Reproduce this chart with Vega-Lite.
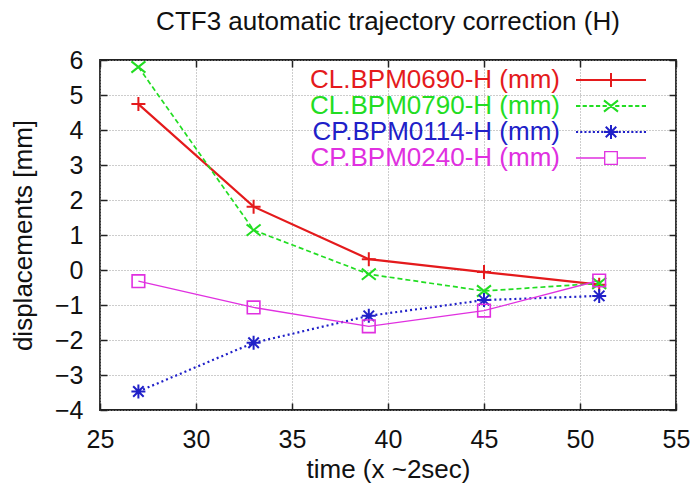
{
  "$schema": "https://vega.github.io/schema/vega-lite/v6.json",
  "width": 576,
  "height": 350,
  "autosize": "none",
  "padding": {"left": 100, "top": 60, "right": 20, "bottom": 78},
  "background": "white",
  "config": {
    "font": "Liberation Sans",
    "view": {"stroke": "#222", "strokeWidth": 1.8},
    "axis": {
      "labelFont": "Liberation Sans",
      "titleFont": "Liberation Sans",
      "labelFontSize": 25,
      "titleFontSize": 26,
      "titleFontWeight": "normal",
      "labelColor": "#111",
      "titleColor": "#111",
      "labelFlush": false,
      "domain": false,
      "tickColor": "#222",
      "tickWidth": 1.5,
      "tickSize": -7,
      "gridColor": "#9a9a9a",
      "gridDash": [1, 2],
      "gridWidth": 1
    }
  },
  "title": {
    "text": "CTF3 automatic trajectory correction (H)",
    "font": "Liberation Sans",
    "fontSize": 26,
    "fontWeight": "normal",
    "color": "#111",
    "anchor": "middle",
    "offset": 13
  },
  "data": {
    "values": [
      {"series": "CL.BPM0690-H (mm)", "t": 27, "v": 4.74},
      {"series": "CL.BPM0690-H (mm)", "t": 33, "v": 1.81},
      {"series": "CL.BPM0690-H (mm)", "t": 39, "v": 0.31},
      {"series": "CL.BPM0690-H (mm)", "t": 45, "v": -0.06},
      {"series": "CL.BPM0690-H (mm)", "t": 51, "v": -0.42},
      {"series": "CL.BPM0790-H (mm)", "t": 27, "v": 5.8},
      {"series": "CL.BPM0790-H (mm)", "t": 33, "v": 1.14},
      {"series": "CL.BPM0790-H (mm)", "t": 39, "v": -0.12},
      {"series": "CL.BPM0790-H (mm)", "t": 45, "v": -0.6},
      {"series": "CL.BPM0790-H (mm)", "t": 51, "v": -0.38},
      {"series": "CP.BPM0114-H (mm)", "t": 27, "v": -3.47},
      {"series": "CP.BPM0114-H (mm)", "t": 33, "v": -2.08},
      {"series": "CP.BPM0114-H (mm)", "t": 39, "v": -1.31},
      {"series": "CP.BPM0114-H (mm)", "t": 45, "v": -0.86},
      {"series": "CP.BPM0114-H (mm)", "t": 51, "v": -0.74},
      {"series": "CP.BPM0240-H (mm)", "t": 27, "v": -0.32},
      {"series": "CP.BPM0240-H (mm)", "t": 33, "v": -1.07},
      {"series": "CP.BPM0240-H (mm)", "t": 39, "v": -1.61},
      {"series": "CP.BPM0240-H (mm)", "t": 45, "v": -1.16},
      {"series": "CP.BPM0240-H (mm)", "t": 51, "v": -0.3}
    ]
  },
  "encoding": {
    "x": {"field": "t", "type": "quantitative", "scale": {"domain": [25, 55], "nice": false, "zero": false}},
    "y": {"field": "v", "type": "quantitative", "scale": {"domain": [-4, 6], "nice": false, "zero": false}},
    "color": {
      "field": "series",
      "type": "nominal",
      "scale": {
        "domain": ["CL.BPM0690-H (mm)", "CL.BPM0790-H (mm)", "CP.BPM0114-H (mm)", "CP.BPM0240-H (mm)"],
        "range": ["#e41a1c", "#22dd22", "#2020c8", "#e030e0"]
      },
      "legend": {
        "orient": "none",
        "legendX": 498,
        "legendY": 7,
        "padding": 0,
        "title": null,
        "labelFont": "Liberation Sans",
        "labelFontSize": 26,
        "labelAlign": "right",
        "labelOffset": -64,
        "labelLimit": 400,
        "symbolSize": 196,
        "symbolStrokeWidth": 1.6,
        "rowPadding": 0,
        "encode": {
          "symbols": {
            "update": {
              "shape": {"signal": "datum.value === 'CL.BPM0690-H (mm)' ? 'M-5,0H5M0,-1V1' : datum.value === 'CL.BPM0790-H (mm)' ? 'M-5,0H-4.4M-4.05,0H-3.45M-3.1,0H-2.5M-2.15,0H-1.55M-1.2,0H-0.6M0.6,0H1.2M1.55,0H2.15M2.5,0H3.1M3.45,0H4.05M4.4,0H5M-1,-0.8L1,0.8M-1,0.8L1,-0.8' : datum.value === 'CP.BPM0114-H (mm)' ? 'M-5,0H-4.7M-4.4,0H-4.1M-3.8,0H-3.5M-3.2,0H-2.9M-2.6,0H-2.3M-2,0H-1.7M-1.4,0H-1.1M1.1,0H1.4M1.7,0H2M2.3,0H2.6M2.9,0H3.2M3.5,0H3.8M4.1,0H4.4M4.7,0H5M-1,0H1M0,-1V1M-0.75,-0.75L0.75,0.75M-0.75,0.75L0.75,-0.75' : 'M-5,0H-0.9M0.9,0H5M-0.9,-0.9H0.9V0.9H-0.9Z'"},
              "fill": {"value": "transparent"},
              "stroke": {"signal": "scale('color', datum.value)"},
              "strokeDash": {"value": []},
              "strokeWidth": {"signal": "datum.value === 'CL.BPM0690-H (mm)' ? 2 : datum.value === 'CP.BPM0240-H (mm)' ? 1.3 : 2"},
              "opacity": {"value": 1}
            }
          },
          "labels": {
            "update": {
              "fill": {"signal": "scale('color', datum.value)"}
            }
          }
        }
      }
    }
  },
  "layer": [
    {
      "transform": [{"filter": "datum.series === 'CL.BPM0690-H (mm)'"}],
      "mark": {"type": "line", "strokeWidth": 2.2},
      "encoding": {
        "x": {"field": "t", "type": "quantitative", "axis": {"values": [25, 30, 35, 40, 45, 50, 55], "title": "time (x ~2sec)", "labelPadding": 24, "titlePadding": 4, "grid": true}},
        "y": {"field": "v", "type": "quantitative", "axis": {"values": [-4, -3, -2, -1, 0, 1, 2, 3, 4, 5, 6], "title": "displacements [mm]", "labelPadding": 24, "titlePadding": 18, "grid": true}}
      }
    },
    {
      "transform": [{"filter": "datum.series === 'CL.BPM0790-H (mm)'"}],
      "mark": {"type": "line", "strokeWidth": 1.7, "strokeDash": [5, 3]},
      "encoding": {
        "x": {"field": "t", "type": "quantitative", "axis": null},
        "y": {"field": "v", "type": "quantitative", "axis": null}
      }
    },
    {
      "transform": [{"filter": "datum.series === 'CP.BPM0114-H (mm)'"}],
      "mark": {"type": "line", "strokeWidth": 2.2, "strokeDash": [2, 3]},
      "encoding": {
        "x": {"field": "t", "type": "quantitative", "axis": null},
        "y": {"field": "v", "type": "quantitative", "axis": null}
      }
    },
    {
      "transform": [{"filter": "datum.series === 'CP.BPM0240-H (mm)'"}],
      "mark": {"type": "line", "strokeWidth": 1.3},
      "encoding": {
        "x": {"field": "t", "type": "quantitative", "axis": null},
        "y": {"field": "v", "type": "quantitative", "axis": null}
      }
    },
    {
      "transform": [{"filter": "datum.series === 'CL.BPM0690-H (mm)'"}],
      "mark": {"type": "point", "filled": false, "strokeWidth": 2, "size": 196, "opacity": 1, "shape": "M-1,0H1M0,-1V1"},
      "encoding": {
        "x": {"field": "t", "type": "quantitative", "axis": {"orient": "top", "values": [25, 30, 35, 40, 45, 50, 55], "labels": false, "grid": false, "title": null}},
        "y": {"field": "v", "type": "quantitative", "axis": {"orient": "right", "values": [-4, -3, -2, -1, 0, 1, 2, 3, 4, 5, 6], "labels": false, "grid": false, "title": null}}
      }
    },
    {
      "transform": [{"filter": "datum.series === 'CL.BPM0790-H (mm)'"}],
      "mark": {"type": "point", "filled": false, "strokeWidth": 2, "size": 196, "opacity": 1, "shape": "M-1,-0.8L1,0.8M-1,0.8L1,-0.8"},
      "encoding": {
        "x": {"field": "t", "type": "quantitative", "axis": null},
        "y": {"field": "v", "type": "quantitative", "axis": null}
      }
    },
    {
      "transform": [{"filter": "datum.series === 'CP.BPM0114-H (mm)'"}],
      "mark": {"type": "point", "filled": false, "strokeWidth": 2, "size": 196, "opacity": 1, "shape": "M-1,0H1M0,-1V1M-0.75,-0.75L0.75,0.75M-0.75,0.75L0.75,-0.75"},
      "encoding": {
        "x": {"field": "t", "type": "quantitative", "axis": null},
        "y": {"field": "v", "type": "quantitative", "axis": null}
      }
    },
    {
      "transform": [{"filter": "datum.series === 'CP.BPM0240-H (mm)'"}],
      "mark": {"type": "point", "filled": false, "strokeWidth": 1.6, "size": 196, "opacity": 1, "shape": "M-0.9,-0.9H0.9V0.9H-0.9Z"},
      "encoding": {
        "x": {"field": "t", "type": "quantitative", "axis": null},
        "y": {"field": "v", "type": "quantitative", "axis": null}
      }
    }
  ],
  "resolve": {"axis": {"x": "independent", "y": "independent"}}
}
